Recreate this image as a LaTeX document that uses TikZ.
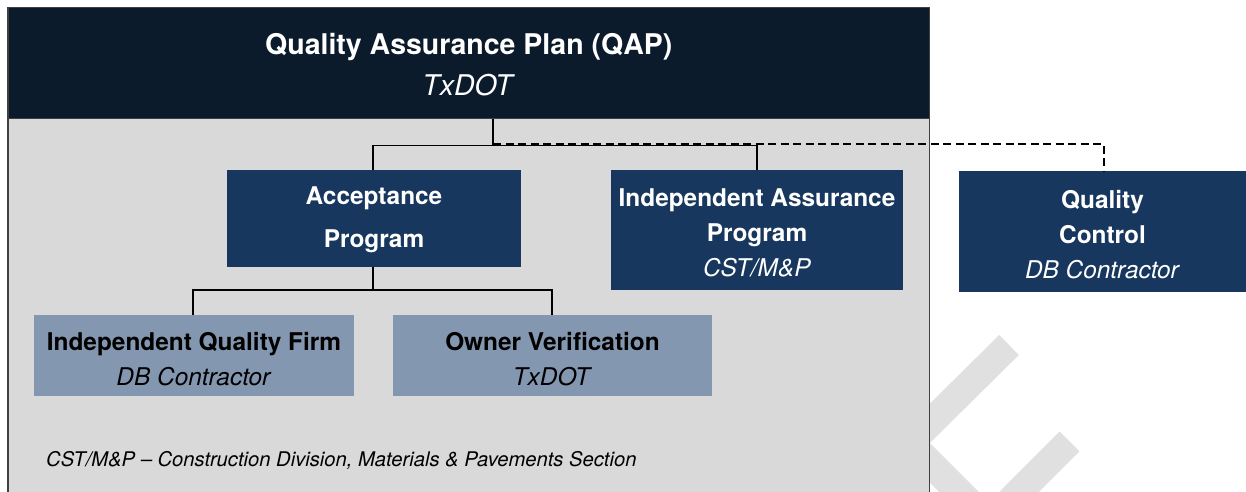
\documentclass[tikz,border=0pt]{standalone}
\usepackage{fontspec}
\setmainfont{TeX Gyre Heros}
\definecolor{hdrnavy}{HTML}{0C1B2B}
\definecolor{boxnavy}{HTML}{17375E}
\definecolor{steel}{HTML}{8497B0}
\definecolor{bodygray}{HTML}{D9D9D9}
\definecolor{framegray}{HTML}{404040}
\definecolor{wmgray}{HTML}{E0E0E0}
\newcommand{\lift}[1]{\rule{0pt}{#1pt}}
\tikzset{
  darkbox/.style={fill=boxnavy, draw=none, text=white, inner sep=0pt, align=center,
    font=\fontsize{24.4}{35}\selectfont},
  lightbox/.style={fill=steel, draw=none, text=black, inner sep=0pt, align=center,
    font=\fontsize{24.4}{35}\selectfont},
  tree/.style={draw=black, line width=1.5pt},
  dashtree/.style={draw=black, line width=1.5pt, dash pattern=on 8pt off 4.5pt},
  wmark/.style={draw=wmgray, line width=28pt, line cap=butt, line join=miter}
}
\begin{document}
\begin{tikzpicture}[x=1pt,y=-1pt]
\useasboundingbox (0,0) rectangle (1246,491);
% watermark
\draw[wmark] (1009,345) -- (910,443) -- (970,503);
\draw[wmark] (1069.5,441.5) -- (1010,501);
% body frame
\path[fill=bodygray, draw=framegray, line width=1.5pt] (8,118.5) rectangle (929.5,500);
% header
\node[fill=hdrnavy, draw=framegray, line width=1.5pt, text=white, inner sep=0pt,
  minimum width=921.5pt, minimum height=111pt, align=center,
  font=\fontsize{28.5}{41}\selectfont] (hdr) at (468.75,63)
  {\lift{25.5}\textbf{Quality Assurance Plan (QAP)}\\\textit{TxDOT}};
% boxes
\node[darkbox, minimum width=294pt, minimum height=97pt] (acc) at (374,218.5)
  {\lift{21}\textbf{Acceptance}\\[8pt]\textbf{Program}};
\node[darkbox, minimum width=292pt, minimum height=120pt] (iap) at (757,230)
  {\lift{24}\textbf{Independent Assurance}\\\textbf{Program}\\\textit{CST/M\&P}};
\node[darkbox, minimum width=287pt, minimum height=121pt] (qc) at (1102.5,231.5)
  {\lift{24}\textbf{Quality}\\\textbf{Control}\\\textit{DB Contractor}};
\node[lightbox, minimum width=320pt, minimum height=81pt] (iqf) at (194,355.5)
  {\lift{24.6}\textbf{Independent Quality Firm}\\\textit{DB Contractor}};
\node[lightbox, minimum width=319pt, minimum height=81pt] (ov) at (552.5,355.5)
  {\lift{24.6}\textbf{Owner Verification}\\\textit{TxDOT}};
% junctions
\coordinate (top) at (493,145.5);
\coordinate (mid) at (373,290);
% connectors
\draw[tree] (hdr.south -| top) -- (top);
\draw[tree] (acc.north -| 373,0) |- (top) -| (iap.north);
\draw[dashtree] (hdr.south -| top) -- (493,144) -| (qc.north -| 1104,0);
\draw[tree] (acc.south -| mid) -- (mid);
\draw[tree] (iqf.north -| 193,0) |- (mid) -| (ov.north -| 552,0);
% footnote
\node[anchor=base west, inner sep=0pt, font=\fontsize{20.2}{24}\selectfont\itshape] (note) at (46,466)
  {CST/M\&P -- Construction Division, Materials \& Pavements Section};
\end{tikzpicture}
\end{document}
